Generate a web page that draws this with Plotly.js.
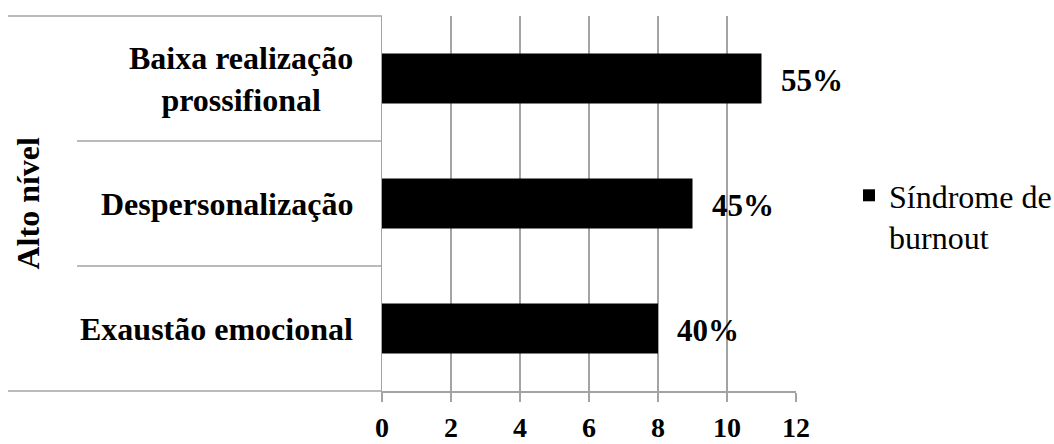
<!DOCTYPE html>
<html>
<head>
<meta charset="utf-8">
<script src="https://cdn.plot.ly/plotly-3.0.1.min.js"></script>
<style>html,body{margin:0;padding:0;background:#fff;}#chart{width:1054px;height:444px;}</style>
</head>
<body>
<div id="chart"></div>
<script>
// Data (bottom to top)
const categories = ['Exaustão emocional', 'Despersonalização', 'Baixa realização<br>prossifional'];
const values = [8, 9, 11];
const valueLabels = ['40%', '45%', '55%'];
const seriesName = 'Síndrome de<br>burnout';
const groupLabel = 'Alto nível';

const FONT = 'Liberation Serif, Times New Roman, serif';
const GRID = '#a3a3a3';

const plotLeft = 382, plotRight = 796, plotTop = 16, plotBottom = 391;
const W = 1054, H = 444;
const plotW = plotRight - plotLeft;
const plotH = plotBottom - plotTop;

const trace = {
  type: 'bar',
  orientation: 'h',
  y: categories,
  x: values,
  name: seriesName,
  marker: {color: '#000000', line: {width: 0}},
  hoverinfo: 'none'
};

const annotations = [];
// value labels
categories.forEach((c, i) => {
  annotations.push({
    x: values[i], y: c, xref: 'x', yref: 'y',
    text: '<b>' + valueLabels[i] + '</b>',
    showarrow: false, xanchor: 'left', yanchor: 'middle', xshift: 17, yshift: -2,
    font: {family: FONT, size: 31, color: '#000'}
  });
});
// category labels
categories.forEach((c, i) => {
  annotations.push({
    x: 0, y: c, xref: 'paper', yref: 'y',
    text: '<b>' + c + '</b>',
    showarrow: false, xanchor: 'right', yanchor: 'middle', align: 'center', xshift: -27,
    font: {family: FONT, size: 32, color: '#000'}
  });
});
// group label
annotations.push({
  x: (27 - plotLeft) / plotW, y: 0.5, xref: 'paper', yref: 'paper',
  text: '<b>' + groupLabel + '</b>', textangle: -90,
  showarrow: false, xanchor: 'center', yanchor: 'middle',
  font: {family: FONT, size: 32, color: '#000'}
});

const shapes = [];
for (let i = 0; i < categories.length - 1; i++) {
  shapes.push({type: 'line', xref: 'paper', yref: 'y',
    x0: (77 - plotLeft) / plotW, x1: 0, y0: i + 0.5, y1: i + 0.5,
    line: {color: GRID, width: 1.5}});
}
[0, 1].forEach(yy => shapes.push({type: 'line', xref: 'paper', yref: 'paper',
  x0: (8 - plotLeft) / plotW, x1: 0, y0: yy, y1: yy,
  line: {color: GRID, width: 1.5}}));

const layout = {
  width: W, height: H,
  margin: {l: plotLeft, r: W - plotRight, t: plotTop, b: H - plotBottom, pad: 0, autoexpand: false},
  paper_bgcolor: '#fff', plot_bgcolor: '#fff',
  bargap: 0.6,
  showlegend: true,
  legend: {
    x: (849 - plotLeft) / plotW, xanchor: 'left',
    y: 1 - (168 - plotTop) / plotH, yanchor: 'top',
    valign: 'top',
    font: {family: FONT, size: 32, color: '#000'},
    bgcolor: 'rgba(0,0,0,0)', borderwidth: 0
  },
  xaxis: {
    range: [0, 12], dtick: 2, tick0: 0,
    showgrid: true, gridcolor: GRID, gridwidth: 1.5,
    zeroline: false,
    showline: true, linecolor: GRID, linewidth: 1.5,
    ticks: 'outside', ticklen: 9, tickwidth: 1.5, tickcolor: GRID,
    tickfont: {family: FONT, size: 28, color: '#000', weight: 'bold'},
    ticklabelstandoff: 2,
    fixedrange: true
  },
  yaxis: {
    type: 'category',
    categoryorder: 'array', categoryarray: categories,
    range: [-0.5, categories.length - 0.5],
    showgrid: false, zeroline: false,
    showline: true, linecolor: GRID, linewidth: 1.5,
    ticks: '', showticklabels: false,
    fixedrange: true
  },
  annotations: annotations,
  shapes: shapes
};

Plotly.newPlot('chart', [trace], layout, {displayModeBar: false, staticPlot: true});
</script>
</body>
</html>
